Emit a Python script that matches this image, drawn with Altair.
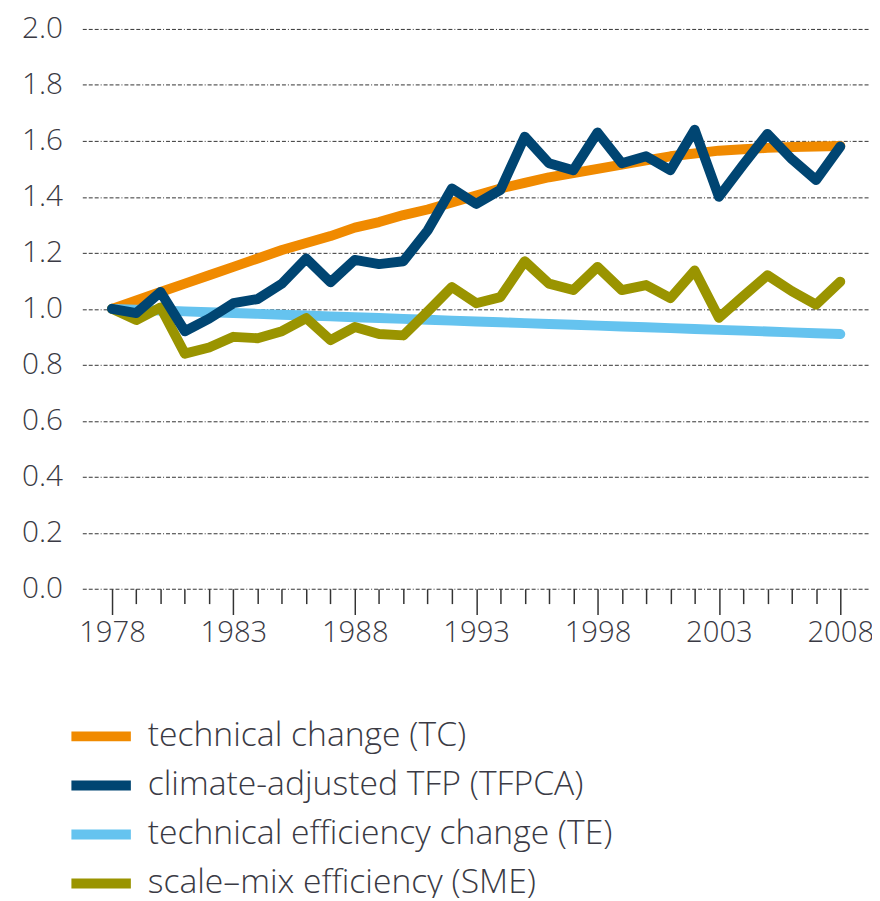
import altair as alt
import pandas as pd

years = list(range(1978, 2009))

tc = [1.00, 1.03, 1.06, 1.09, 1.12, 1.15, 1.18, 1.21, 1.235, 1.26, 1.29,
      1.31, 1.335, 1.355, 1.38, 1.405, 1.43, 1.45, 1.47, 1.485, 1.50,
      1.515, 1.53, 1.545, 1.555, 1.565, 1.57, 1.575, 1.578, 1.58, 1.582]

tfpca = [1.00, 0.985, 1.06, 0.92, 0.965, 1.02, 1.035, 1.09, 1.18, 1.095, 1.175,
         1.16, 1.17, 1.28, 1.43, 1.375, 1.425, 1.615, 1.52, 1.495, 1.63,
         1.52, 1.545, 1.495, 1.64, 1.40, 1.515, 1.625, 1.535, 1.46, 1.58]

te = [1.000, 0.997, 0.994, 0.991, 0.988, 0.985, 0.982, 0.979, 0.976, 0.973, 0.970,
      0.967, 0.964, 0.961, 0.958, 0.955, 0.952, 0.949, 0.946, 0.943, 0.940,
      0.937, 0.934, 0.931, 0.928, 0.925, 0.922, 0.919, 0.916, 0.913, 0.910]

sme = [1.00, 0.96, 1.005, 0.84, 0.862, 0.90, 0.895, 0.92, 0.967, 0.888, 0.935,
       0.91, 0.905, 0.99, 1.078, 1.02, 1.042, 1.17, 1.09, 1.067, 1.15,
       1.067, 1.085, 1.038, 1.137, 0.968, 1.045, 1.12, 1.063, 1.015, 1.097]

series_names = [
    "technical change (TC)",
    "climate-adjusted TFP (TFPCA)",
    "technical efficiency change (TE)",
    "scale\u2013mix efficiency (SME)",
]
series_colors = ["#F08A00", "#004572", "#65C3EF", "#9A9400"]
series_values = [tc, tfpca, te, sme]
draw_order = [0, 2, 3, 1]

y_ticks = [0.0, 0.2, 0.4, 0.6, 0.8, 1.0, 1.2, 1.4, 1.6, 1.8, 2.0]

rows = []
for name, vals in zip(series_names, series_values):
    for yr, v in zip(years, vals):
        rows.append({"year": yr, "value": v, "series": name})
df = pd.DataFrame(rows)

FONT = "Open Sans"
TEXT = "#3a3a44"

x_enc = alt.X(
    "year:Q",
    scale=alt.Scale(domain=[1976.776, 2009.224], nice=False, zero=False),
    axis=alt.Axis(
        values=years, format="d", title=None, grid=False, domain=False,
        labelExpr="(datum.value - 1978) % 5 == 0 ? datum.label : ''",
        labelOverlap=False, labelFlush=False, labelBound=False,
        tickSize={"condition": {"test": "(datum.value - 1978) % 5 == 0", "value": 26}, "value": 15},
        tickColor="#333333", tickWidth=1.5,
        labelFont=FONT, labelFontWeight=300, labelFontSize=29.5, labelColor=TEXT,
        labelPadding=4,
    ),
)
y_enc = alt.Y(
    "value:Q",
    scale=alt.Scale(domain=[0, 2], nice=False, zero=True),
    axis=alt.Axis(
        values=y_ticks, format=".1f", title=None, grid=True, domain=False, ticks=False,
        gridColor="#333333", gridWidth=1, gridDash=[4, 2, 4, 2, 4, 2, 1, 2],
        labelFont=FONT, labelFontWeight=300, labelFontSize=30, labelColor=TEXT,
        labelPadding=20,
    ),
)
color_enc = alt.Color(
    "series:N",
    scale=alt.Scale(domain=series_names, range=series_colors),
    legend=alt.Legend(
        title=None, orient="none", legendX=-1, legendY=694, direction="vertical",
        symbolType="M-2,0H2", symbolSize=900, symbolStrokeWidth=10,
        rowPadding=9.5, labelFont=FONT, labelFontWeight=300, labelFontSize=34,
        labelColor=TEXT, labelOffset=27, padding=0, labelLimit=0,
    ),
)

layers = []
for i in draw_order:
    layers.append(
        alt.Chart(df)
        .transform_filter(alt.datum.series == series_names[i])
        .mark_line(strokeWidth=10, strokeJoin="round", strokeCap="round")
        .encode(x=x_enc, y=y_enc, color=color_enc)
    )

chart = (
    alt.layer(*layers)
    .properties(
        width=795, height=565,
        autosize=alt.AutoSizeParams(type="none"),
        padding={"left": 75, "top": 17, "right": 2, "bottom": 308},
    )
    .configure_view(stroke=None)
)

chart.save("out.html", embed_options={"renderer": "svg", "actions": False})
